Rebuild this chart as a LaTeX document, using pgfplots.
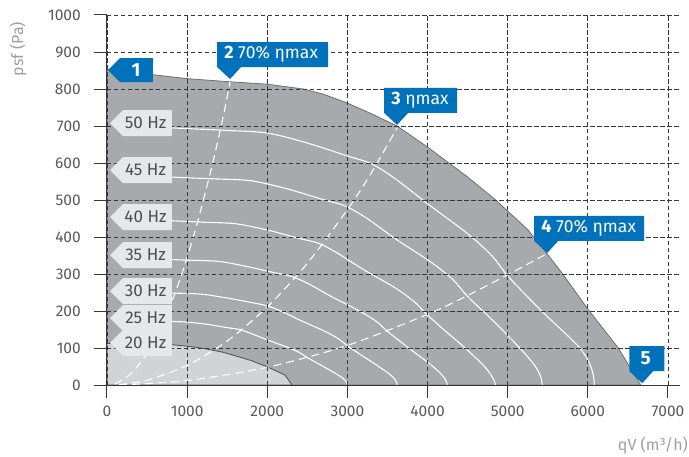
\documentclass[border=0pt]{standalone}
\usepackage{fontspec}
\setmainfont{Fira Sans}
\usepackage{pgfplots}
\pgfplotsset{compat=1.18}

\definecolor{darkreg}{RGB}{167,169,172}
\definecolor{lightreg}{RGB}{209,211,212}
\definecolor{hzfill}{RGB}{230,231,232}
\definecolor{hztext}{RGB}{77,77,79}
\definecolor{tickgray}{RGB}{88,89,91}
\definecolor{labgray}{RGB}{157,159,162}
\definecolor{callblue}{RGB}{0,113,187}
\definecolor{gridgray}{RGB}{55,55,55}
\definecolor{edgegray}{RGB}{110,111,114}

% grey frequency tag, tip at #1
\newcommand\hzlab[2]{%
  \fill[hzfill] (#1) ++(3pt,0) -- ++(13pt,13pt) -- ++(49pt,0) -- ++(0,-26pt) -- ++(-49pt,0) -- cycle;
  \node[text=hztext, inner sep=0pt, font=\fontsize{17}{18}\selectfont] at ([xshift=38.5pt]#1) {#2};}

% blue callout pointing down, tip at #1, width #2
\newcommand\callout[3]{%
  \fill[callblue] (#1) -- ++(-13pt,12pt) -- ++(0,25pt) -- ++(#2,0) -- ++(0,-25pt) -- ++(-#2+24pt,0) -- cycle;
  \node[text=white, anchor=west, inner sep=0pt, font=\fontsize{17.5}{18}\selectfont] at ([xshift=-6pt,yshift=24.5pt]#1) {#3};}

\begin{document}
\begin{tikzpicture}
\path[use as bounding box] (-107pt,-71pt) rectangle (582pt,385pt);
\begin{axis}[
  at={(0pt,0pt)}, anchor=south west,
  scale only axis, width=573pt, height=370pt,
  xmin=0, xmax=7150, ymin=0, ymax=1000,
  axis x line=bottom, axis y line=left,
  axis line style={-, draw=gridgray, line width=1pt},
  every outer x axis line/.append style={-},
  every outer y axis line/.append style={-},
  xtick={0,1000,...,7000}, ytick={0,100,...,1000},
  tick align=outside, major tick length=13pt,
  tick style={draw=gridgray, line width=1pt},
  grid=major,
  major grid style={draw=gridgray, line width=0.9pt, dash pattern=on 4.5pt off 2.5pt},
  axis on top,
  /pgf/number format/1000 sep={},
  /pgf/number format/assume math mode=true,
  ticklabel style={font=\fontsize{15.5}{18}\selectfont, text=tickgray},
  yticklabel style={inner sep=0pt, xshift=-13pt},
  xticklabel style={inner sep=0pt, yshift=-8pt},
  clip=false,
]
% operating range
\addplot[fill=darkreg, draw=edgegray, line width=0.8pt] coordinates {
  (0,0) (0,853) (600,838) (1000,828) (1500,820) (2000,813) (2450,800) (2700,786)
  (3000,762) (3300,733) (3620,700) (4000,643) (4500,562) (4850,500) (5250,420)
  (5500,352) (5680,302) (6000,205) (6380,100) (6660,0)
} -- cycle;
% 20 Hz region
\addplot[fill=lightreg, draw=edgegray!70!black, line width=0.8pt] coordinates {
  (0,0) (0,112) (400,111) (800,109) (1000,105) (1200,99) (1440,89) (1600,79)
  (1800,66) (2000,49) (2220,27) (2310,0)
} -- cycle;

% frequency curves
\addplot[white, line width=1.1pt, smooth] coordinates {
  (800,695) (1000,693) (1500,688) (2000,681) (2500,654) (3000,619) (3300,598)
  (3600,557) (4000,490) (4500,409) (4800,350) (5000,295) (5250,238) (5500,184)
  (5750,133) (5900,100) (5990,72) (6050,42) (6075,18) (6080,0)
};
\addplot[white, line width=1.1pt, smooth] coordinates {
  (720,563) (900,561) (1350,557) (1800,552) (2250,530) (2700,501) (2970,484)
  (3240,451) (3600,395) (4050,331) (4320,284) (4500,239) (4725,193) (4950,145)
  (5150,100) (5290,66) (5375,40) (5418,18) (5430,0)
};
\addplot[white, line width=1.1pt, smooth] coordinates {
  (640,445) (800,444) (1200,440) (1600,436) (2000,419) (2400,396) (2640,383)
  (2880,356) (3200,312) (3600,262) (3840,224) (4000,189) (4200,150) (4400,113)
  (4580,78) (4710,50) (4790,28) (4835,10) (4845,0)
};
\addplot[white, line width=1.1pt, smooth] coordinates {
  (560,341) (700,340) (1050,337) (1400,334) (1750,320) (2100,303) (2310,293)
  (2520,273) (2800,239) (3150,200) (3360,172) (3500,145) (3675,115) (3850,86)
  (4010,60) (4120,40) (4200,22) (4238,8) (4245,0)
};
\addplot[white, line width=1.1pt, smooth] coordinates {
  (480,250) (600,249) (900,248) (1200,245) (1500,235) (1800,223) (1980,215)
  (2160,201) (2400,176) (2700,147) (2880,126) (3000,106) (3150,84) (3300,63)
  (3430,44) (3530,29) (3590,16) (3615,6) (3620,0)
};
\addplot[white, line width=1.1pt, smooth] coordinates {
  (400,174) (500,173) (750,172) (1000,170) (1250,164) (1500,155) (1650,150)
  (1800,139) (2000,122) (2250,102) (2400,88) (2500,74) (2625,59) (2750,44)
  (2860,30) (2940,19) (2985,9) (3000,0)
};

% efficiency lines
\addplot[white, line width=1.1pt, dash pattern=on 8pt off 5pt, smooth] coordinates {
  (100,3) (300,31) (500,86) (700,169) (900,279) (1100,417) (1300,583) (1450,725) (1536,820)
};
\addplot[white, line width=1.1pt, dash pattern=on 8pt off 5pt, smooth] coordinates {
  (150,1) (500,13) (1000,53) (1500,119) (2000,211) (2500,329) (3000,474) (3300,574) (3620,695)
};
\addplot[white, line width=1.1pt, dash pattern=on 8pt off 5pt, smooth] coordinates {
  (150,0) (1000,12) (2000,48) (3000,107) (4000,191) (4500,242) (5000,298) (5490,355)
};

\coordinate (O) at (axis cs:0,0);
\coordinate (P1) at (axis cs:0,851);
\coordinate (P2) at (axis cs:1536,827);
\coordinate (P3) at (axis cs:3620,703);
\coordinate (P4) at (axis cs:5493,357);
\coordinate (P5) at (axis cs:6679,5);
\coordinate (H50) at (axis cs:0,708);
\coordinate (H45) at (axis cs:0,581);
\coordinate (H40) at (axis cs:0,454);
\coordinate (H35) at (axis cs:0,351);
\coordinate (H30) at (axis cs:0,254);
\coordinate (H25) at (axis cs:0,181);
\coordinate (H20) at (axis cs:0,114);
\end{axis}

\hzlab{H50}{50 Hz}
\hzlab{H45}{45 Hz}
\hzlab{H40}{40 Hz}
\hzlab{H35}{35 Hz}
\hzlab{H30}{30 Hz}
\hzlab{H25}{25 Hz}
\hzlab{H20}{20 Hz}

\fill[callblue] (P1) ++(1pt,0) -- ++(12pt,12pt) -- ++(33pt,0) -- ++(0,-24pt) -- ++(-33pt,0) -- cycle;
\node[text=white, inner sep=0pt, font=\fontsize{19}{20}\selectfont\bfseries] at ([xshift=29pt]P1) {1};
\callout{P2}{111pt}{{\fontsize{18}{18}\selectfont\bfseries 2} 70\% ηmax}
\callout{P3}{73pt}{{\fontsize{18}{18}\selectfont\bfseries 3} ηmax}
\callout{P4}{110pt}{{\fontsize{18}{18}\selectfont\bfseries 4} 70\% ηmax}
\fill[callblue] (P5) -- ++(-13pt,12pt) -- ++(0,25pt) -- ++(35pt,0) -- ++(0,-25pt) -- ++(-11pt,0) -- cycle;
\node[text=white, inner sep=0pt, font=\fontsize{19}{20}\selectfont\bfseries] at ([xshift=3.5pt,yshift=24.5pt]P5) {5};

\node[rotate=90, text=labgray, inner sep=0pt, font=\fontsize{16}{18}\selectfont] at ([xshift=-89pt,yshift=336pt]O) {psf (Pa)};
\node[anchor=east, text=labgray, inner sep=0pt, font=\fontsize{16}{18}\selectfont] at ([xshift=581pt,yshift=-60pt]O) {qV (m³/h)};
\end{tikzpicture}
\end{document}
